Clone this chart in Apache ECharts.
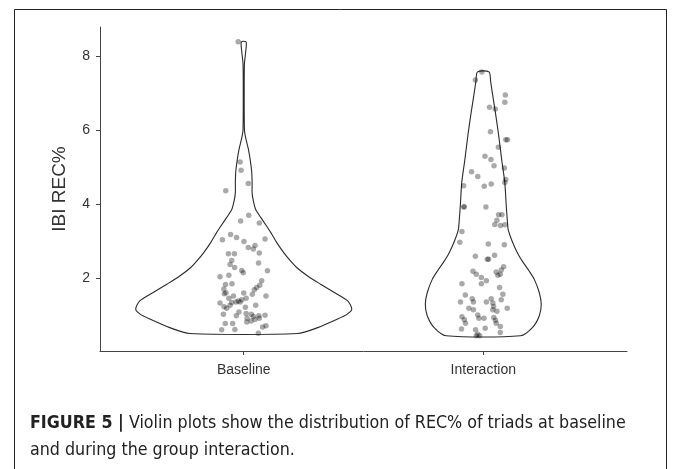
<!DOCTYPE html>
<html>
<head>
<meta charset="utf-8">
<script src="https://cdn.jsdelivr.net/npm/echarts@6/dist/echarts.min.js"></script>
<style>
  html, body { margin: 0; padding: 0; background: #fff; }
  #chart { width: 673px; height: 469px; }
</style>
</head>
<body>
<div id="chart"></div>
<script>
// groups on the x axis
const GROUPS = ['Baseline', 'Interaction'];
const Y_TICKS = [2, 4, 6, 8];

// violin outline: value level and half width (x units)
const BASE_LEVELS = [0.52, 0.68, 0.91, 1.05, 1.18, 1.40, 1.62, 1.85, 2.07, 2.30, 2.47, 2.70, 2.97, 3.20, 3.41, 3.65, 3.86, 4.10, 4.31, 4.60, 4.90, 5.20, 5.50, 5.80, 6.00, 7.00, 7.80, 8.10, 8.38];
const BASE_HALF = [0.225, 0.309, 0.392, 0.434, 0.451, 0.434, 0.380, 0.321, 0.267, 0.221, 0.196, 0.167, 0.138, 0.117, 0.096, 0.071, 0.050, 0.040, 0.035, 0.035, 0.033, 0.027, 0.019, 0.008, 0.003, 0.002, 0.003, 0.008, 0.010];
const INT_LEVELS = [0.46, 0.68, 1.00, 1.31, 1.62, 1.98, 2.20, 2.43, 2.65, 2.88, 3.10, 3.32, 3.60, 3.95, 4.58, 5.20, 5.92, 6.50, 7.00, 7.30, 7.57];
const INT_HALF = [0.155, 0.205, 0.234, 0.242, 0.234, 0.213, 0.192, 0.167, 0.146, 0.129, 0.115, 0.104, 0.100, 0.096, 0.090, 0.077, 0.063, 0.050, 0.038, 0.031, 0.024];

// jittered points: horizontal offset from the group centre, and REC%
const BASE_JIT = [-0.023, -0.015, -0.011, 0.019, -0.075, 0.021, -0.013, 0.065, -0.055, -0.089, -0.030, 0.001, 0.089, 0.019, 0.040, 0.047, 0.065, -0.064, -0.039, -0.050, -0.057, -0.038, 0.062, -0.008, -0.002, 0.099, -0.099, -0.062, 0.075, 0.067, -0.076, -0.049, -0.083, -0.074, -0.081, 0.044, 0.054, 0.000, 0.036, -0.043, 0.093, -0.062, 0.010, -0.008, -0.023, -0.050, -0.032, -0.099, -0.057, -0.082, -0.071, 0.007, 0.050, -0.020, -0.085, -0.031, 0.010, 0.032, 0.040, 0.063, 0.089, 0.014, 0.031, 0.047, 0.065, 0.013, -0.046, -0.077, 0.079, 0.093, -0.092, -0.037, 0.061, -0.015];
const BASE_REC = [8.38, 5.14, 4.92, 4.56, 4.37, 3.71, 3.55, 3.50, 3.19, 3.05, 3.11, 3.00, 3.07, 2.84, 2.80, 2.89, 2.69, 2.67, 2.67, 2.49, 2.38, 2.30, 2.42, 2.22, 2.16, 2.21, 2.05, 2.09, 1.94, 1.82, 1.84, 1.86, 1.72, 1.62, 1.59, 1.70, 1.76, 1.61, 1.58, 1.53, 1.53, 1.47, 1.47, 1.43, 1.40, 1.36, 1.37, 1.34, 1.28, 1.24, 1.20, 1.23, 1.28, 1.10, 1.04, 1.00, 1.06, 1.04, 0.98, 1.00, 1.01, 0.93, 0.86, 0.90, 0.93, 0.83, 0.79, 0.79, 0.70, 0.73, 0.62, 0.63, 0.53, 1.37];
const INT_JIT = [-0.006, -0.033, 0.092, 0.090, 0.026, 0.050, 0.030, 0.094, 0.101, 0.063, 0.007, 0.032, 0.045, 0.088, -0.049, -0.023, 0.094, 0.090, -0.082, 0.004, 0.033, -0.081, -0.080, 0.011, 0.064, 0.078, 0.057, 0.048, 0.072, 0.090, -0.089, -0.098, 0.021, 0.088, -0.033, 0.017, 0.022, 0.047, -0.043, -0.029, -0.008, 0.013, -0.008, -0.089, 0.054, 0.061, 0.071, 0.085, 0.075, 0.068, -0.075, -0.046, 0.082, 0.033, 0.075, -0.095, -0.041, 0.013, 0.040, 0.043, -0.060, -0.041, 0.040, 0.057, 0.100, -0.023, -0.018, 0.003, -0.089, -0.079, -0.074, 0.044, 0.051, 0.054, 0.071, -0.091, -0.032, 0.008, 0.071, -0.023, -0.015, -0.029];
const INT_REC = [7.57, 7.35, 6.95, 6.75, 6.62, 6.57, 5.96, 5.74, 5.74, 5.54, 5.30, 5.21, 5.04, 4.98, 4.88, 4.75, 4.67, 4.59, 4.50, 4.49, 4.55, 3.93, 3.94, 3.93, 3.72, 3.72, 3.57, 3.46, 3.43, 3.45, 3.27, 2.98, 2.93, 2.91, 2.60, 2.52, 2.52, 2.63, 2.20, 2.12, 2.03, 1.94, 1.86, 1.86, 2.18, 2.09, 2.12, 2.32, 2.23, 1.76, 1.56, 1.46, 1.58, 1.46, 1.43, 1.37, 1.37, 1.37, 1.34, 1.25, 1.20, 1.16, 1.16, 1.12, 1.20, 1.02, 0.93, 0.93, 0.97, 0.89, 0.80, 0.95, 0.88, 0.80, 0.71, 0.64, 0.62, 0.66, 0.55, 0.50, 0.46, 0.46];

const CAPTION_HEAD = 'FIGURE 5 |';
const CAPTION_1 = ' Violin plots show the distribution of REC% of triads at baseline';
const CAPTION_2 = 'and during the group interaction.';

const FONT = '"Liberation Sans", Arial, sans-serif';
const NARROW = '"Liberation Sans Narrow", "DejaVu Sans Condensed", "Liberation Sans", sans-serif';

function jitterPoints(center, jit, rec) {
  return jit.map((d, i) => [center + d, rec[i]]);
}

function violinSeries(center, levels, half) {
  return {
    type: 'custom',
    coordinateSystem: 'cartesian2d',
    data: [[center, levels[0]]],
    silent: true,
    z: 1,
    renderItem: function (params, api) {
      let pts = [];
      for (let i = 0; i < levels.length; i++) {
        pts.push(api.coord([center - half[i], levels[i]]));
      }
      for (let i = levels.length - 1; i >= 0; i--) {
        pts.push(api.coord([center + half[i], levels[i]]));
      }
      return {
        type: 'polygon',
        shape: { points: pts, smooth: 0.25 },
        style: { fill: '#fff', stroke: '#2b2b2b', lineWidth: 1.1 }
      };
    }
  };
}

const chart = echarts.init(document.getElementById('chart'));

chart.setOption({
  backgroundColor: '#fff',
  animation: false,
  grid: { left: 100, right: 46, top: 27, bottom: 118 },
  xAxis: {
    type: 'value',
    min: 0.4,
    max: 2.6,
    splitLine: { show: false },
    axisLine: { lineStyle: { color: '#444', width: 1 } },
    axisTick: { customValues: [1, 2], length: 4, lineStyle: { color: '#444' } },
    axisLabel: {
      customValues: [1, 2],
      formatter: v => GROUPS[Math.round(v) - 1],
      color: '#333',
      fontFamily: FONT,
      fontSize: 14,
      margin: 12
    }
  },
  yAxis: {
    type: 'value',
    min: 0.05,
    max: 8.78,
    name: 'IBI REC%',
    nameLocation: 'middle',
    nameGap: 31,
    nameTextStyle: { color: '#333', fontFamily: FONT, fontSize: 19 },
    splitLine: { show: false },
    axisLine: { show: true, lineStyle: { color: '#444', width: 1 } },
    axisTick: { show: true, customValues: Y_TICKS, length: 4, lineStyle: { color: '#444' } },
    axisLabel: {
      customValues: Y_TICKS,
      color: '#333',
      fontFamily: FONT,
      fontSize: 14,
      margin: 10
    }
  },
  series: [
    violinSeries(1, BASE_LEVELS, BASE_HALF),
    violinSeries(2, INT_LEVELS, INT_HALF),
    {
      type: 'scatter',
      data: jitterPoints(1, BASE_JIT, BASE_REC),
      symbolSize: 5.5,
      z: 3,
      itemStyle: { color: 'rgba(0,0,0,0.42)' }
    },
    {
      type: 'scatter',
      data: jitterPoints(2, INT_JIT, INT_REC),
      symbolSize: 5.5,
      z: 3,
      itemStyle: { color: 'rgba(0,0,0,0.42)' }
    }
  ],
  graphic: [
    {
      type: 'rect',
      shape: { x: 14.5, y: 9.5, width: 652, height: 470 },
      style: { fill: null, stroke: '#222', lineWidth: 1 },
      silent: true
    },
    {
      type: 'text',
      left: 30,
      top: 414,
      style: {
        text: '{b|' + CAPTION_HEAD + '}{n|' + CAPTION_1 + '}',
        rich: {
          b: { fontFamily: NARROW, fontWeight: 'bold', fontSize: 17.7, fill: '#222' },
          n: { fontFamily: NARROW, fontSize: 17.7, fill: '#222' }
        }
      }
    },
    {
      type: 'text',
      left: 30,
      top: 441,
      style: {
        text: CAPTION_2,
        fontFamily: NARROW,
        fontSize: 17.7,
        fill: '#222'
      }
    }
  ]
});
</script>
</body>
</html>
